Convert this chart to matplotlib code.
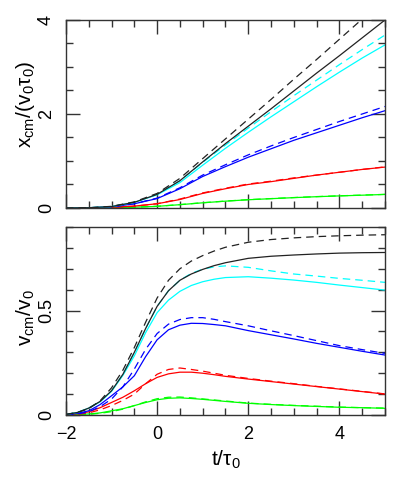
import matplotlib.pyplot as plt
from matplotlib.ticker import MultipleLocator

plt.rcParams['font.family'] = ['Liberation Sans', 'DejaVu Sans']
plt.rcParams['mathtext.fontset'] = 'custom'
plt.rcParams['mathtext.rm'] = 'Liberation Sans'
plt.rcParams['mathtext.it'] = 'Liberation Sans:italic'

# time grids
t_pos = [-2, -1.5, -1, -0.5, 0, 0.5, 1, 1.5, 2, 2.5, 3, 3.5, 4, 4.5, 5]
t_vel = [-2, -1.75, -1.5, -1.25, -1, -0.75, -0.5, -0.25, 0, 0.25, 0.5, 0.75,
         1, 1.25, 1.5, 2, 2.5, 3, 3.5, 4, 4.5, 5]

# x_cm / (v0 tau0)
x_black = [0, 0.005, 0.03, 0.12, 0.29, 0.58, 0.98, 1.37, 1.74, 2.11, 2.49, 2.87, 3.24, 3.62, 4.0]
x_black_d = [0, 0.005, 0.035, 0.13, 0.31, 0.63, 1.05, 1.47, 1.89, 2.31, 2.74, 3.16, 3.59, 4.02, 4.44]
x_cyan = [0, 0.005, 0.03, 0.12, 0.28, 0.54, 0.91, 1.27, 1.61, 1.94, 2.26, 2.58, 2.89, 3.19, 3.47]
x_cyan_d = [0, 0.005, 0.03, 0.12, 0.29, 0.58, 0.97, 1.34, 1.70, 2.05, 2.39, 2.72, 3.05, 3.37, 3.68]
x_blue = [0, 0.004, 0.025, 0.09, 0.20, 0.41, 0.67, 0.88, 1.08, 1.26, 1.44, 1.60, 1.76, 1.92, 2.07]
x_blue_d = [0, 0.003, 0.02, 0.09, 0.21, 0.43, 0.70, 0.92, 1.13, 1.32, 1.50, 1.67, 1.84, 2.00, 2.16]
x_red = [0, 0.003, 0.015, 0.04, 0.09, 0.18, 0.31, 0.41, 0.50, 0.56, 0.63, 0.70, 0.76, 0.82, 0.87]
x_red_d = [0, 0.002, 0.012, 0.038, 0.09, 0.19, 0.32, 0.42, 0.51, 0.57, 0.64, 0.70, 0.76, 0.82, 0.875]
x_green = [0, 0.002, 0.007, 0.017, 0.035, 0.07, 0.11, 0.145, 0.175, 0.198, 0.22, 0.24, 0.257, 0.272, 0.288]
x_green_d = [0, 0.001, 0.006, 0.016, 0.036, 0.072, 0.112, 0.147, 0.177, 0.2, 0.222, 0.242, 0.259, 0.274, 0.29]

# v_cm / v0
v_black = [0.003, 0.012, 0.033, 0.065, 0.116, 0.195, 0.30, 0.415, 0.52, 0.595, 0.645, 0.675,
           0.697, 0.715, 0.729, 0.750, 0.760, 0.766, 0.771, 0.775, 0.777, 0.778]
v_black_d = [0.003, 0.012, 0.03, 0.068, 0.13, 0.215, 0.323, 0.445, 0.56, 0.645, 0.70, 0.737,
             0.763, 0.785, 0.803, 0.827, 0.840, 0.848, 0.854, 0.858, 0.861, 0.863]
v_cyan = [0.003, 0.012, 0.033, 0.063, 0.113, 0.19, 0.283, 0.395, 0.49, 0.55, 0.592, 0.62,
          0.638, 0.65, 0.658, 0.662, 0.655, 0.646, 0.635, 0.622, 0.61, 0.598]
v_cyan_d = [0.003, 0.012, 0.033, 0.065, 0.116, 0.195, 0.30, 0.415, 0.52, 0.595, 0.645, 0.678,
            0.698, 0.709, 0.714, 0.707, 0.69, 0.675, 0.665, 0.654, 0.645, 0.635]
v_blue = [0.002, 0.008, 0.02, 0.05, 0.092, 0.135, 0.188, 0.28, 0.36, 0.408, 0.43, 0.439,
          0.438, 0.433, 0.427, 0.404, 0.384, 0.364, 0.343, 0.324, 0.305, 0.287]
v_blue_d = [0.001, 0.005, 0.015, 0.04, 0.076, 0.135, 0.22, 0.315, 0.39, 0.435, 0.457, 0.466,
            0.466, 0.458, 0.447, 0.427, 0.403, 0.38, 0.356, 0.332, 0.313, 0.295]
v_red = [0.001, 0.006, 0.015, 0.035, 0.06, 0.085, 0.116, 0.15, 0.18, 0.197, 0.205, 0.205,
         0.2, 0.193, 0.185, 0.172, 0.16, 0.148, 0.136, 0.124, 0.112, 0.10]
v_red_d = [0.0, 0.003, 0.01, 0.025, 0.045, 0.07, 0.10, 0.15, 0.195, 0.218, 0.225, 0.218,
           0.21, 0.2, 0.19, 0.175, 0.162, 0.15, 0.137, 0.125, 0.113, 0.101]
v_green = [0.0, 0.002, 0.005, 0.01, 0.02, 0.03, 0.045, 0.06, 0.073, 0.08, 0.082, 0.079,
           0.075, 0.07, 0.065, 0.056, 0.05, 0.045, 0.041, 0.037, 0.035, 0.032]
v_green_d = [0.0, 0.001, 0.003, 0.008, 0.016, 0.028, 0.045, 0.063, 0.078, 0.085, 0.086, 0.082,
             0.077, 0.072, 0.067, 0.057, 0.051, 0.046, 0.042, 0.038, 0.035, 0.033]

colors = ['#00ff00', '#ff0000', '#0000ff', '#00ffff', '#222222']
pos_solid = [x_green, x_red, x_blue, x_cyan, x_black]
pos_dash = [x_green_d, x_red_d, x_blue_d, x_cyan_d, x_black_d]
vel_solid = [v_green, v_red, v_blue, v_cyan, v_black]
vel_dash = [v_green_d, v_red_d, v_blue_d, v_cyan_d, v_black_d]

lw = 0.9
dash = (0, (6, 4))

fig = plt.figure(figsize=(3.95, 4.83), dpi=100)
ax1 = fig.add_axes([0.167, 0.5694, 0.8076, 0.3892])
ax2 = fig.add_axes([0.167, 0.1408, 0.8076, 0.3892])

for c, ys, yd in zip(colors, pos_solid, pos_dash):
    ax1.plot(t_pos, ys, color=c, lw=lw)
    ax1.plot(t_pos, yd, color=c, lw=lw, linestyle=dash)
for c, ys, yd in zip(colors, vel_solid, vel_dash):
    ax2.plot(t_vel, ys, color=c, lw=lw)
    ax2.plot(t_vel, yd, color=c, lw=lw, linestyle=dash)

ax1.set_xlim(-2, 5)
ax1.set_ylim(0, 4)
ax2.set_xlim(-2, 5)
ax2.set_ylim(0, 0.9)

ax1.xaxis.set_major_locator(MultipleLocator(2))
ax1.xaxis.set_minor_locator(MultipleLocator(0.5))
ax1.yaxis.set_major_locator(MultipleLocator(2))
ax1.yaxis.set_minor_locator(MultipleLocator(0.5))
ax2.xaxis.set_major_locator(MultipleLocator(2))
ax2.xaxis.set_minor_locator(MultipleLocator(0.5))
ax2.yaxis.set_minor_locator(MultipleLocator(0.1))
ax2.set_yticks([0, 0.5])
ax2.set_yticklabels(['0', '0.5'])

for ax in (ax1, ax2):
    for s in ax.spines.values():
        s.set_linewidth(1.0)
        s.set_color('#333333')
    ax.tick_params(which='both', direction='in', top=True, right=True,
                   color='#333333', width=1.0, labelsize=13, pad=8)
    ax.tick_params(which='major', length=10)
    ax.tick_params(which='minor', length=5)
    for lab in ax.get_yticklabels():
        lab.set_rotation(90)
        lab.set_va('center')

ax1.tick_params(axis='x', labelbottom=False)

ax1.set_ylabel(r'$\mathrm{x_{cm}/(v_0\tau_0)}$', fontsize=15)
ax2.set_ylabel(r'$\mathrm{v_{cm}/v_0}$', fontsize=15)
ax2.set_xlabel(r'$\mathrm{t/\tau_0}$', fontsize=15)
ax1.yaxis.set_label_coords(-0.09, 0.55)
ax2.yaxis.set_label_coords(-0.09, 0.52)

fig.savefig('out.png', dpi=100)
